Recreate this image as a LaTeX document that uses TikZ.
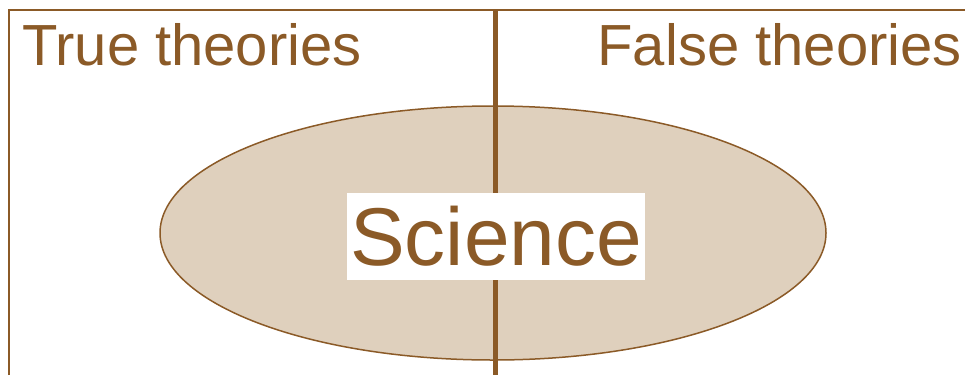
\documentclass[tikz,border=0pt]{standalone}
\usepackage{fontspec}
\setmainfont{Liberation Sans}
\usetikzlibrary{shapes.geometric, positioning}
\definecolor{theorybrown}{RGB}{139,90,39}
\definecolor{sciencefill}{RGB}{223,208,189}

\begin{document}
\begin{tikzpicture}[x=1pt, y=-1pt,
    label/.style={text=theorybrown, inner sep=0pt, font=\fontsize{58}{58}\selectfont}]
    \useasboundingbox (0,0) rectangle (965,375);

    % Frame
    \draw[theorybrown, line width=1.5pt] (9,375) |- (965,10);

    % Science region
    \node[ellipse, draw=theorybrown, fill=sciencefill, line width=1.5pt,
          minimum width=666pt, minimum height=254pt] (region) at (493,233) {};

    % Divider
    \coordinate (top) at (495,10);
    \coordinate (bottom) at (495,375);
    \draw[theorybrown, line width=5pt] (top) -- (bottom);

    % Labels
    \node[label, anchor=base west] (true) at (22,65) {True theories};
    \node[label, anchor=base east] (false) at (962,65) {False theories};
    \node[fill=white, text=theorybrown, inner sep=0pt, minimum width=298pt, minimum height=87pt,
          font=\fontsize{82}{82}\selectfont] (science) at (496,236) {Science};
\end{tikzpicture}
\end{document}
